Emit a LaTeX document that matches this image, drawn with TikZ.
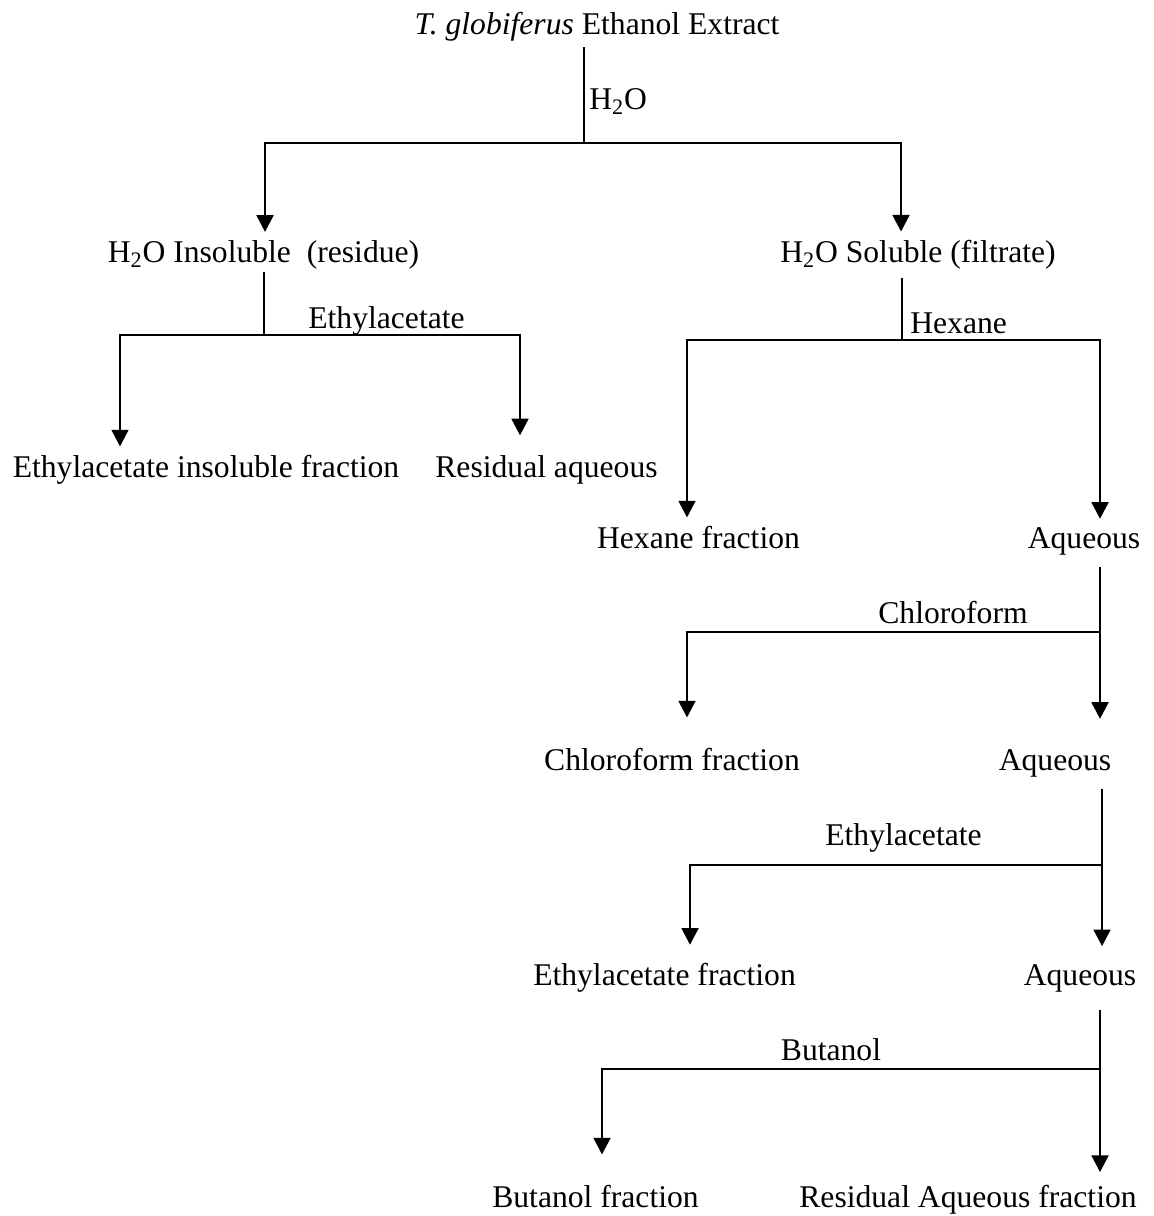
\documentclass[tikz,border=0pt]{standalone}
\usepackage{fontspec}
\setmainfont{Liberation Serif}
\usetikzlibrary{arrows.meta}
\newcommand{\water}{H\textsubscript{2}O}

\begin{document}
\begin{tikzpicture}[x=0.02cm, y=-0.02cm,
        txt/.style={inner sep=0pt, anchor=base, font=\fontsize{18}{22}\selectfont},
        lbl/.style={txt, anchor=base west},
        ln/.style={line width=1.6pt},
        arr/.style={ln, -{Triangle[width=9.5pt, length=9.5pt]}}]
        \useasboundingbox (0, 0) rectangle (1153, 1216);

        % texts
        \node[txt] (title) at (597, 35) {\textit{T. globiferus} Ethanol Extract};
        \node[lbl] (wat) at (589, 110) {\water};
        \node[txt] (insol) at (263.5, 263) {\water{} Insoluble\ \ (residue)};
        \node[txt] (sol) at (918, 263) {\water{} Soluble (filtrate)};
        \node[txt] (ea1) at (386.5, 328) {Ethylacetate};
        \node[lbl] (hex) at (910, 334) {Hexane};
        \node[txt] (eaif) at (206, 477) {Ethylacetate insoluble fraction};
        \node[txt] (resaq) at (546.5, 477) {Residual aqueous};
        \node[txt] (hexf) at (698.5, 548) {Hexane fraction};
        \node[txt] (aq1) at (1084, 548) {Aqueous};
        \node[txt] (chl) at (953, 623) {Chloroform};
        \node[txt] (chlf) at (672, 770) {Chloroform fraction};
        \node[txt] (aq2) at (1055, 770) {Aqueous};
        \node[txt] (ea2) at (903.5, 845) {Ethylacetate};
        \node[txt] (eaf) at (664.5, 985) {Ethylacetate fraction};
        \node[txt] (aq3) at (1080, 985) {Aqueous};
        \node[txt] (but) at (831, 1060) {Butanol};
        \node[txt] (butf) at (595.5, 1207) {Butanol fraction};
        \node[txt] (resaqf) at (968, 1207) {Residual Aqueous fraction};

        % junctions
        \coordinate (j0) at (584, 143);
        \coordinate (l0) at (265, 143);
        \coordinate (r0) at (901, 143);
        \coordinate (j1) at (264, 335);
        \coordinate (l1) at (120, 335);
        \coordinate (r1) at (520, 335);
        \coordinate (j2) at (902, 340);
        \coordinate (l2) at (687, 340);
        \coordinate (r2) at (1100, 340);
        \coordinate (j3) at (1100, 632);
        \coordinate (l3) at (687, 632);
        \coordinate (j4) at (1102, 865);
        \coordinate (l4) at (690, 865);
        \coordinate (j5) at (1100, 1069);
        \coordinate (l5) at (602, 1069);

        % water
        \draw[ln, shorten <=3pt] (title.south -| j0) -- (j0);
        \draw[arr, shorten >=5pt] (j0) -| (insol.north -| l0);
        \draw[arr, shorten >=5pt] (j0) -| (sol.north -| r0);

        % insoluble part
        \draw[ln, shorten <=1pt] (insol.south -| j1) -- (j1);
        \draw[arr, shorten >=4.5pt] (j1) -| (eaif.north -| l1);
        \draw[arr, shorten >=11pt] (j1) -| (resaq.north -| r1);

        % soluble part
        \draw[ln, shorten <=4.5pt] (sol.south -| j2) -- (j2);
        \draw[arr, shorten >=4.5pt] (j2) -| (hexf.north -| l2);
        \draw[arr, shorten >=4.5pt] (j2) -| (aq1.north -| r2);

        \draw[arr, shorten <=7pt, shorten >=17pt] (aq1.south -| j3) -- (aq2.north -| j3);
        \draw[arr, shorten >=17pt] (j3) -| (chlf.north -| l3);

        \draw[arr, shorten <=7pt, shorten >=10pt] (aq2.south -| j4) -- (aq3.north -| j4);
        \draw[arr, shorten >=10pt] (j4) -| (eaf.north -| l4);

        \draw[arr, shorten <=10pt, shorten >=7pt] (aq3.south -| j5) -- (resaqf.north -| j5);
        \draw[arr, shorten >=17pt] (j5) -| (butf.north -| l5);
\end{tikzpicture}
\end{document}
